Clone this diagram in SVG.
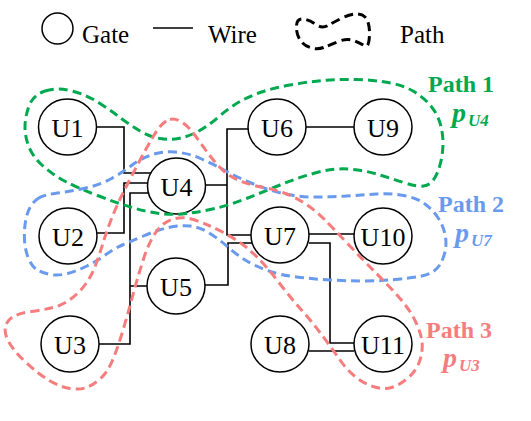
<svg xmlns="http://www.w3.org/2000/svg" width="531" height="421" viewBox="0 0 531 421">
<style>
text{font-family:'Liberation Serif','Times New Roman',Times,'DejaVu Serif',serif}
.node ellipse{fill:#fff;stroke:#000;stroke-width:1.5}
.node text{font-size:26px;text-anchor:middle;fill:#000}
.leg text{font-size:25px;fill:#000}
.wire{fill:none;stroke:#000;stroke-width:1.6}
.path{fill:none;stroke-width:3;stroke-dasharray:9 5}
.lbl{font-weight:bold;font-size:24px}
.pv{font-style:italic;font-size:28px}
.sub{font-style:italic;font-size:17px}
.g{stroke:#00A84F}.b{stroke:#6A9AEE}.r{stroke:#F67D7D}
</style>
<rect width="531" height="421" fill="#fff"/>
<g id="legend" class="leg">
<ellipse cx="57.5" cy="28.5" rx="15.5" ry="15.5" fill="none" stroke="#000" stroke-width="1.5"/>
<text x="82" y="43">Gate</text>
<line x1="153" y1="28" x2="193" y2="28" stroke="#000" stroke-width="1.6"/>
<text x="208" y="43">Wire</text>
<path class="path" stroke="#000" d="M296.5,25.5 Q297,18 303.5,19 Q310,20 316,24.5 Q322,29 328,25.5 Q334,22 342,18 Q350,14 356,14 Q362,14 365,17 Q368,20 369,26.5 Q370,33 369,40.5 Q368,48 364,45.5 Q360,43 353.5,40.5 Q347,38 338.5,41.5 Q330,45 323.5,47.5 Q317,50 310,47.5 Q303,45 299.5,39 Q296,33 296.5,25.5 Z"/>
<text x="400" y="43">Path</text>
</g>
<g id="wires">
<path class="wire" d="M97,127 H124 V173 H151"/>
<path class="wire" d="M97,233 H124 V183 H149"/>
<path class="wire" d="M99,344 H130 V193 H149 M130,286 H147"/>
<path class="wire" d="M205,185 H227 M248,129 H227 V235 H251"/>
<path class="wire" d="M205,285 H228 V243 H252"/>
<path class="wire" d="M306,127 H354"/>
<path class="wire" d="M309,234 H354"/>
<path class="wire" d="M309,243 H330 V343 H354"/>
<path class="wire" d="M309,351 H354"/>
</g>
<g id="U1" class="node"><ellipse cx="67.5" cy="127" rx="29" ry="28"/><text x="67.5" y="136.5">U1</text></g>
<g id="U2" class="node"><ellipse cx="68" cy="236" rx="29" ry="28"/><text x="68" y="245.5">U2</text></g>
<g id="U3" class="node"><ellipse cx="70" cy="344" rx="29" ry="28"/><text x="70" y="353.5">U3</text></g>
<g id="U4" class="node"><ellipse cx="176.5" cy="186" rx="29" ry="28"/><text x="176.5" y="195.5">U4</text></g>
<g id="U5" class="node"><ellipse cx="176" cy="286" rx="29" ry="28"/><text x="176" y="295.5">U5</text></g>
<g id="U6" class="node"><ellipse cx="277" cy="127" rx="29" ry="28"/><text x="277" y="136.5">U6</text></g>
<g id="U7" class="node"><ellipse cx="280" cy="235" rx="29" ry="28"/><text x="280" y="244.5">U7</text></g>
<g id="U8" class="node"><ellipse cx="280" cy="344" rx="29" ry="28"/><text x="280" y="353.5">U8</text></g>
<g id="U9" class="node"><ellipse cx="383" cy="127" rx="29" ry="28"/><text x="383" y="136.5">U9</text></g>
<g id="U10" class="node"><ellipse cx="383" cy="236" rx="29" ry="28"/><text x="383" y="245.5">U10</text></g>
<g id="U11" class="node"><ellipse cx="383" cy="344" rx="29" ry="28"/><text x="383" y="353.5">U11</text></g>
<g id="paths">
<path id="path1" class="path g" d="M45,91 Q57,87 72,91 Q87,95 98.5,102.5 Q110,110 120,117.5 Q130,125 140,131 Q150,137 160,138.5 Q170,140 178.5,138.5 Q187,137 197,132 Q207,127 218.5,117 Q230,107 240,101.5 Q250,96 261.5,92 Q273,88 290,85 Q307,82 323.5,80.5 Q340,79 356.5,79.5 Q373,80 388,82.5 Q403,85 413,91 Q423,97 430,105 Q437,113 440,123 Q443,133 443,143 Q443,153 440.5,163 Q438,173 434,179 Q430,185 423.5,186 Q417,187 403.5,182.5 Q390,178 376.5,174 Q363,170 348,169 Q333,168 315,173 Q297,178 280,185 Q263,192 246.5,198.5 Q230,205 215,208.5 Q200,212 186.5,213.5 Q173,215 160,213.5 Q147,212 132,207.5 Q117,203 97.5,195.5 Q78,188 65.5,181.5 Q53,175 43,166 Q33,157 29,147 Q25,137 25,127 Q25,117 29,106 Q33,95 45,91 Z"/>
<path id="path2" class="path b" d="M38,198.5 Q43,195 55,193.5 Q67,192 83.5,188.5 Q100,185 111.5,178.5 Q123,172 131.5,165.5 Q140,159 151,155 Q162,151 175,152 Q188,153 200.5,158.5 Q213,164 224,170 Q235,176 250,182.5 Q265,189 281,193 Q297,197 313.5,197 Q330,197 346.5,196 Q363,195 376.5,194 Q390,193 403.5,195.5 Q417,198 425,204 Q433,210 438.5,218.5 Q444,227 445.5,237 Q447,247 443.5,257 Q440,267 434,271 Q428,275 419,276.5 Q410,278 395,279.5 Q380,281 363.5,281 Q347,281 330,280 Q313,279 296.5,277 Q280,275 267.5,270.5 Q255,266 246,260.5 Q237,255 228.5,247.5 Q220,240 210,233.5 Q200,227 190,226 Q180,225 168.5,227.5 Q157,230 143.5,236 Q130,242 122.5,245 Q115,248 106,254.5 Q97,261 87,266 Q77,271 67.5,273.5 Q58,276 50.5,274.5 Q43,273 37.5,270 Q32,267 28.5,258.5 Q25,250 24.5,240 Q24,230 25.5,221.5 Q27,213 30,207.5 Q33,202 38,198.5 Z"/>
<path id="path3" class="path r" d="M170,119.5 Q175,118 181.5,122 Q188,126 194,134 Q200,142 206,150.5 Q212,159 220,167.5 Q228,176 239,180.5 Q250,185 261.5,187 Q273,189 284,193 Q295,197 305,203.5 Q315,210 324,219 Q333,228 348,244 Q363,260 376.5,273.5 Q390,287 400,298.5 Q410,310 415.5,321.5 Q421,333 422,341.5 Q423,350 420,360 Q417,370 408.5,377.5 Q400,385 391.5,387.5 Q383,390 373,386.5 Q363,383 355,376.5 Q347,370 340,360 Q333,350 323,336.5 Q313,323 301.5,310 Q290,297 278.5,282 Q267,267 257,257 Q247,247 238.5,241.5 Q230,236 222.5,232 Q215,228 209,225.5 Q203,223 195,220 Q187,217 178.5,218 Q170,219 163.5,224 Q157,229 152,238.5 Q147,248 143.5,259 Q140,270 137.5,278.5 Q135,287 131,302 Q127,317 122,333.5 Q117,350 112,361.5 Q107,373 100,379 Q93,385 86.5,387.5 Q80,390 70,388.5 Q60,387 48.5,380 Q37,373 25,361.5 Q13,350 8.5,341.5 Q4,333 5.5,326.5 Q7,320 13.5,316.5 Q20,313 31.5,311.5 Q43,310 53,307.5 Q63,305 71.5,298.5 Q80,292 86,283.5 Q92,275 96,264 Q100,253 103,243 Q106,233 111,220 Q116,207 123.5,192 Q131,177 139,162 Q147,147 152,138.5 Q157,130 161,125.5 Q165,121 170,119.5 Z"/>
</g>
<g id="labels">
<text class="lbl" x="428" y="91.5" fill="#00A84F">Path 1</text>
<text class="lbl" x="452" y="121.5" fill="#00A84F"><tspan class="pv">p</tspan><tspan class="sub" dx="2" dy="4">U4</tspan></text>
<text class="lbl" x="438" y="211.5" fill="#6A9AEE">Path 2</text>
<text class="lbl" x="455" y="241.5" fill="#6A9AEE"><tspan class="pv">p</tspan><tspan class="sub" dx="2" dy="4">U7</tspan></text>
<text class="lbl" x="426" y="337.5" fill="#F67D7D">Path 3</text>
<text class="lbl" x="443" y="367" fill="#F67D7D"><tspan class="pv">p</tspan><tspan class="sub" dx="2" dy="4">U3</tspan></text>
</g>
</svg>
